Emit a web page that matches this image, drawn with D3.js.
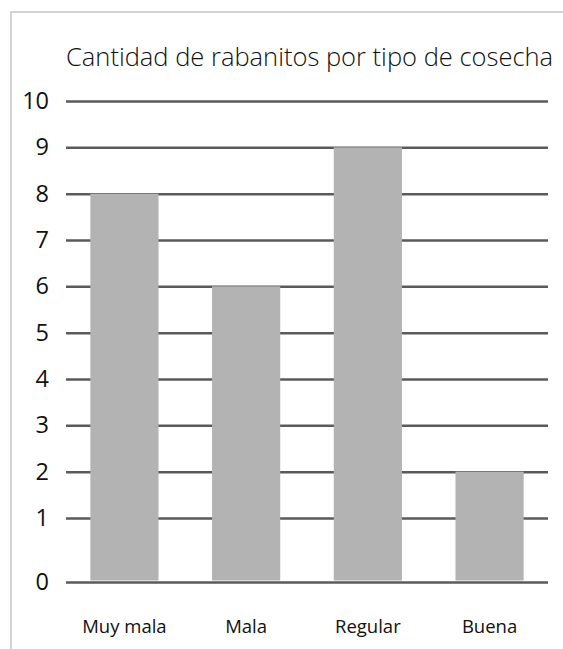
<!DOCTYPE html>
<html>
<head>
<meta charset="utf-8">
<script src="https://cdn.jsdelivr.net/npm/d3@7"></script>
<style>
  html, body { margin: 0; padding: 0; background: #fff; }
  svg { display: block; }
  text { font-family: "Open Sans", Lato, sans-serif; fill: #111; }
</style>
</head>
<body>
<svg id="chart" width="563" height="649"></svg>
<script>
// Harvest data: number of radishes per harvest quality
const categories = ["Muy mala", "Mala", "Regular", "Buena"];
const values = [8, 6, 9, 2];
const tickValues = [0, 1, 2, 3, 4, 5, 6, 7, 8, 9, 10];
const title = "Cantidad de rabanitos por tipo de cosecha";

const svg = d3.select("#chart");
const W = 563, H = 649;
const FONT = "'Open Sans', Lato, sans-serif";

// light frame around the chart area
svg.append("path")
  .attr("d", `M11,${H + 5} L11,12 L${W + 5},12`)
  .attr("fill", "none")
  .attr("stroke", "#d3d3d3")
  .attr("stroke-width", 2);

const plotLeft = 66, plotRight = 548;

const x = d3.scaleBand()
  .domain(categories)
  .range([plotLeft, plotRight])
  .paddingInner(0.44)
  .paddingOuter(0.2);

// the axis leaves a wider gap between 0 and 1 than between the other steps
const y = d3.scaleLinear()
  .domain([0, 1, 10])
  .range([582, 518, 101]);

// gridlines + value labels
const yAxis = svg.append("g")
  .attr("transform", `translate(${plotRight},0)`)
  .call(d3.axisLeft(y)
    .tickValues(tickValues)
    .tickFormat(d3.format("d"))
    .tickSize(plotRight - plotLeft)
    .tickPadding(17));
yAxis.select(".domain").remove();
yAxis.selectAll(".tick line")
  .attr("stroke", "#5a5a5a")
  .attr("stroke-width", 2.5);
yAxis.selectAll(".tick text")
  .style("font-size", "23.5px")
  .style("font-family", FONT)
  .style("font-weight", 400)
  .attr("fill", "#111");

// bars
svg.append("g")
  .selectAll("rect")
  .data(values)
  .join("rect")
  .attr("x", (d, i) => x(categories[i]))
  .attr("width", x.bandwidth())
  .attr("y", d => y(d))
  .attr("height", d => y(0) - 1.5 - y(d))
  .attr("fill", "#b3b3b3");

// category labels
const xAxis = svg.append("g")
  .attr("transform", `translate(0,633)`)
  .call(d3.axisBottom(x).tickSize(0).tickPadding(0));
xAxis.select(".domain").remove();
xAxis.selectAll(".tick text")
  .attr("dy", 0)
  .style("font-size", "18.5px")
  .style("font-family", FONT)
  .style("font-weight", 400)
  .attr("fill", "#111");

// title, sized to span the plot width
const titleText = svg.append("text")
  .attr("x", plotLeft)
  .attr("y", 66)
  .style("font-family", FONT)
  .style("font-weight", 300)
  .style("font-size", "24px")
  .attr("fill", "#000")
  .text(title);
const tw = titleText.node().getComputedTextLength();
titleText.style("font-size", (24 * 487 / tw).toFixed(2) + "px");
</script>
</body>
</html>
